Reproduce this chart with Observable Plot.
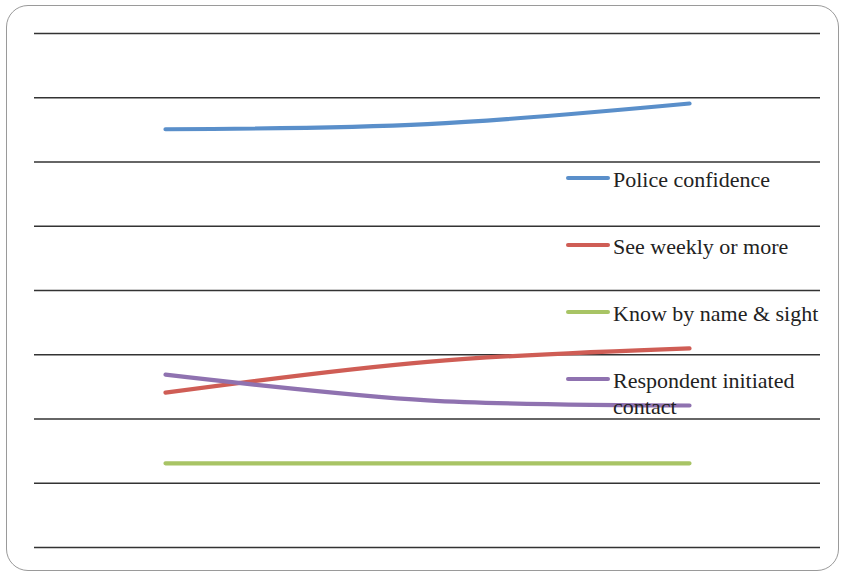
<!DOCTYPE html>
<html>
<head>
<meta charset="utf-8">
<script src="https://cdn.jsdelivr.net/npm/d3@7"></script>
<script src="https://cdn.jsdelivr.net/npm/@observablehq/plot@0.6"></script>
<style>
  html, body { margin: 0; padding: 0; background: #fff; }
  #wrap { position: relative; width: 841px; height: 572px; overflow: hidden; }
  #frame { position: absolute; left: 6px; top: 5px; width: 833px; height: 566px;
           border: 1.5px solid #9a9a9a; border-radius: 22px; box-sizing: border-box; }
  #chart { position: absolute; left: 0; top: 0; }
  #legend { position: absolute; left: 566px; top: 167px; font-family: "Liberation Serif", "DejaVu Serif", serif;
            font-size: 22px; color: #222; }
  .item { position: absolute; left: 0; width: 270px; }
  .swatch { position: absolute; left: 0; width: 44px; height: 4px; border-radius: 2px; }
  .label { position: absolute; left: 47px; line-height: 26px; white-space: normal; }
</style>
</head>
<body>
<div id="wrap">
  <div id="frame"></div>
  <div id="chart"></div>
  <div id="legend"></div>
</div>
<script>
const periods = ["Wave 1", "Wave 2", "Wave 3"];
const seriesNames = ["Police confidence", "See weekly or more", "Know by name & sight", "Respondent initiated contact"];
const seriesColors = ["#5A8FCA", "#CF5D55", "#A8C465", "#8F72B0"];
const policeConfidence = [65.1, 65.9, 69.1];
const seeWeekly = [24.1, 28.9, 31.0];
const knowByName = [13.1, 13.1, 13.1];
const respondentContact = [26.9, 22.9, 22.1];
const yTicks = [0, 10, 20, 30, 40, 50, 60, 70, 80];

const allValues = [policeConfidence, seeWeekly, knowByName, respondentContact];
const data = [];
seriesNames.forEach((name, i) => {
  periods.forEach((p, j) => data.push({series: name, period: p, value: allValues[i][j]}));
});

const chart = Plot.plot({
  width: 841,
  height: 572,
  marginLeft: 34,
  marginRight: 21,
  marginTop: 33,
  marginBottom: 25,
  x: {type: "point", domain: periods, padding: 0.5, axis: null},
  y: {domain: [0, 80], axis: null},
  color: {domain: seriesNames, range: seriesColors},
  marks: [
    Plot.ruleY(yTicks, {stroke: "#333", strokeWidth: 1.4}),
    Plot.line(data, {
      x: "period", y: "value", z: "series", stroke: "series",
      strokeWidth: 4.2, strokeLinecap: "round", strokeLinejoin: "round",
      curve: "catmull-rom"
    })
  ]
});
chart.style.background = "transparent";
document.getElementById("chart").appendChild(chart);

// Legend
const legendTops = [0, 67, 134, 201];
const legend = document.getElementById("legend");
seriesNames.forEach((name, i) => {
  const item = document.createElement("div");
  item.className = "item";
  item.style.top = legendTops[i] + "px";
  const sw = document.createElement("div");
  sw.className = "swatch";
  sw.style.background = seriesColors[i];
  sw.style.top = "9px";
  const lb = document.createElement("div");
  lb.className = "label";
  lb.style.top = "0px";
  lb.style.width = i === 3 ? "200px" : "260px";
  lb.textContent = name;
  item.appendChild(sw);
  item.appendChild(lb);
  legend.appendChild(item);
});
</script>
</body>
</html>
